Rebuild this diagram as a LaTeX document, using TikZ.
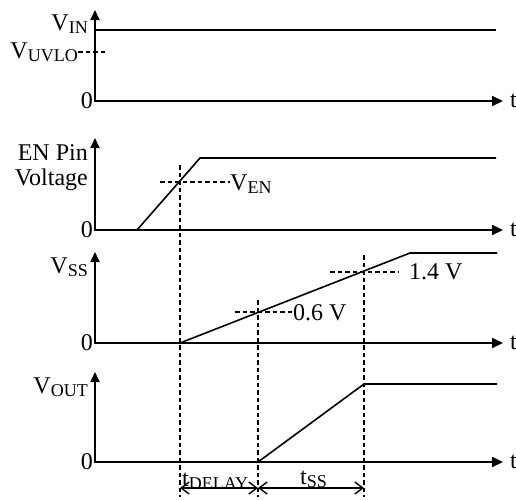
\documentclass[tikz,border=0pt]{standalone}
\usepackage{fontspec}
\setmainfont{Liberation Serif}
\usetikzlibrary{arrows.meta}
\newcommand{\sbs}[1]{\raisebox{-3.5pt}{\fontsize{18}{18}\selectfont #1}}
\begin{document}
\begin{tikzpicture}[x=1pt,y=-1pt,
  axisline/.style={line width=1.8pt,{Triangle[length=10pt,width=9pt]}-{Triangle[length=11pt,width=10pt]}},
  sig/.style={line width=1.6pt,line join=miter},
  dsh/.style={line width=1.4pt,dash pattern=on 4.5pt off 3pt},
  dim/.style={line width=1.4pt,{Straight Barb[length=8pt,width=12pt]}-{Straight Barb[length=8pt,width=12pt]}},
  lbl/.style={inner sep=0pt,font=\fontsize{24}{25}\selectfont},
  every node/.style={inner sep=0pt}]
\useasboundingbox (0,0) rectangle (516,499);
% axis coordinates
\coordinate (o1) at (95,101); \coordinate (y1) at (95,10);  \coordinate (x1) at (503,101);
\coordinate (o2) at (95,230); \coordinate (y2) at (95,138); \coordinate (x2) at (503,230);
\coordinate (o3) at (95,343); \coordinate (y3) at (95,252); \coordinate (x3) at (503,343);
\coordinate (o4) at (95,462); \coordinate (y4) at (95,372); \coordinate (x4) at (503,462);
% axes
\draw[axisline] (y1) -- (o1) -- (x1);
\draw[axisline] (y2) -- (o2) -- (x2);
\draw[axisline] (y3) -- (o3) -- (x3);
\draw[axisline] (y4) -- (o4) -- (x4);
% zero and t labels
\foreach \i in {1,2,3,4}{
  \node[lbl,anchor=east] (z\i) at ([xshift=-2pt]o\i) {0};
  \node[lbl,anchor=west] (t\i) at ([xshift=7pt]x\i) {t};
}
% signal points
\coordinate (vin0) at (95,30);  \coordinate (vin1) at (496,30);
\coordinate (en0) at (137,230); \coordinate (en1) at (200,158); \coordinate (en2) at (496,158);
\coordinate (ss0) at (180,343); \coordinate (ss1) at (410,253); \coordinate (ss2) at (497,253);
\coordinate (vo0) at (258,462); \coordinate (vo1) at (364,384); \coordinate (vo2) at (497,384);
% signals
\draw[sig] (vin0) -- (vin1);
\draw[sig] (o2) -- (en0) -- (en1) -- (en2);
\draw[sig] (o3) -- (ss0) -- (ss1) -- (ss2);
\draw[sig] (o4) -- (vo0) -- (vo1) -- (vo2);
% labels on the y axes
\node[lbl,anchor=base east] (lvin) at (88,30) {V\sbs{IN}};
\node[lbl,anchor=base east] (lvuvlo) at (78,58) {V\sbs{UVLO}};
\node[lbl,anchor=east,align=right] (len) at (88,168) {EN Pin\\Voltage};
\node[lbl,anchor=base east] (lvss) at (88,273) {V\sbs{SS}};
\node[lbl,anchor=base east] (lvout) at (88,393) {V\sbs{OUT}};
% threshold dashed lines
\coordinate (uv1) at (108,52);
\draw[dsh] (lvuvlo.east |- uv1) -- (uv1);
\node[lbl,anchor=base west] (lven) at (230,190) {V\sbs{EN}};
\coordinate (ven0) at (160,182);
\draw[dsh] (ven0) -- (lven.west |- ven0);
\node[lbl,anchor=west] (l06) at (293,313) {0.6 V};
\coordinate (s06) at (235,312);
\draw[dsh] (s06) -- (l06.west |- s06);
\node[lbl,anchor=west] (l14) at (409,272) {1.4 V};
\coordinate (s14) at (330,272);
\draw[dsh] (s14) -- ([xshift=-10pt]l14.west |- s14);
% vertical dashed markers
\coordinate (m1t) at (180,165); \coordinate (m1b) at (180,497);
\coordinate (m2t) at (258,300); \coordinate (m2b) at (258,497);
\coordinate (m3t) at (364,255); \coordinate (m3b) at (364,497);
\draw[dsh] (m1t) -- (m1b);
\draw[dsh] (m2t) -- (m2b);
\draw[dsh] (m3t) -- (m3b);
% dimension arrows
\coordinate (d1) at (180,488); \coordinate (d2) at (258,488); \coordinate (d3) at (364,488);
\draw[dim] (d1) -- (d2);
\draw[dim] (d2) -- (d3);
\node[lbl,anchor=base west] (ldelay) at (182,486) {t\sbs{DELAY}};
\node[lbl,anchor=base west] (ltss) at (300,484) {t\sbs{SS}};
\end{tikzpicture}
\end{document}
